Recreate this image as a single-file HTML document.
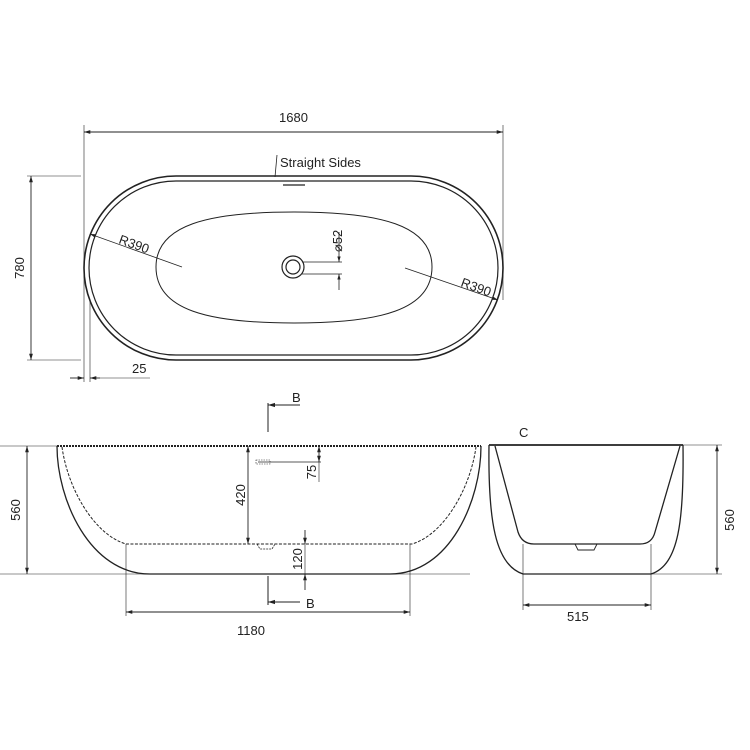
<!DOCTYPE html>
<html><head><meta charset="utf-8"><style>
html,body{margin:0;padding:0;background:#fff;}
svg{display:block;}
text{font-family:"Liberation Sans",sans-serif;font-size:13px;fill:#222;}
</style></head><body>
<svg width="750" height="750" viewBox="0 0 750 750" xmlns="http://www.w3.org/2000/svg">
<defs>
<marker id="a" viewBox="0 0 10 10" refX="10" refY="5" markerWidth="7" markerHeight="7" orient="auto-start-reverse"><path d="M0,2 L10,5 L0,8 z" fill="#222"/></marker>
</defs>
<g fill="none" stroke="#222">
<!-- TOP VIEW -->
<rect x="84" y="176" width="419" height="184" rx="92" ry="92" stroke-width="1.6"/>
<rect x="89" y="181" width="409" height="174" rx="87" ry="87" stroke-width="1.2"/>
<path d="M294,212 C380,212 432,225 432,267 C432,310 380,323 294,323 C208,323 156,310 156,267 C156,225 208,212 294,212 Z" stroke-width="1"/>
<circle cx="293" cy="267" r="11" stroke-width="1.2"/>
<circle cx="293" cy="267" r="7" stroke-width="1.2"/>
<line x1="283" y1="185" x2="305" y2="185" stroke-width="1.2"/>
<!-- 1680 -->
<line x1="84" y1="132" x2="503" y2="132" stroke-width="0.9" marker-start="url(#a)" marker-end="url(#a)"/>
<line x1="84" y1="125" x2="84" y2="382" stroke-width="0.6"/>
<line x1="503" y1="125" x2="503" y2="300" stroke-width="0.6"/>
<!-- 780 -->
<line x1="31" y1="176" x2="31" y2="360" stroke-width="0.9" marker-start="url(#a)" marker-end="url(#a)"/>
<line x1="27" y1="176" x2="81" y2="176" stroke-width="0.6"/>
<line x1="27" y1="360" x2="81" y2="360" stroke-width="0.6"/>
<!-- 25 -->
<line x1="90" y1="300" x2="90" y2="382" stroke-width="0.6"/>
<line x1="70" y1="378" x2="84" y2="378" stroke-width="0.9" marker-end="url(#a)"/>
<line x1="100" y1="378" x2="90" y2="378" stroke-width="0.9" marker-end="url(#a)"/>
<line x1="100" y1="378" x2="150" y2="378" stroke-width="0.6"/>
<!-- straight sides leader -->
<line x1="277" y1="155" x2="275" y2="177" stroke-width="0.8"/>
<!-- R390 -->
<line x1="182" y1="267" x2="90" y2="234" stroke-width="0.8" marker-end="url(#a)"/>
<line x1="405" y1="268" x2="498" y2="300" stroke-width="0.8" marker-end="url(#a)"/>
<!-- phi 52 -->
<line x1="302" y1="262" x2="342" y2="262" stroke-width="0.7"/>
<line x1="302" y1="274" x2="342" y2="274" stroke-width="0.7"/>
<line x1="339" y1="232" x2="339" y2="262" stroke-width="0.8" marker-end="url(#a)"/>
<line x1="339" y1="290" x2="339" y2="274" stroke-width="0.8" marker-end="url(#a)"/>

<!-- SIDE VIEW -->
<line x1="57" y1="446" x2="481" y2="446" stroke-width="2" stroke-dasharray="2 1"/>
<path d="M57,446 C57,500 90,574 150,574 L390,574 C450,574 481,500 481,446" stroke-width="1.3"/>
<path d="M62,447 C68,490 95,535 126,544 L412,544 C443,535 470,490 476,447" stroke-width="1" stroke-dasharray="3 1.5"/>
<line x1="0" y1="574" x2="150" y2="574" stroke-width="0.6"/>
<line x1="390" y1="574" x2="470" y2="574" stroke-width="0.6"/>
<line x1="0" y1="446" x2="57" y2="446" stroke-width="0.6"/>
<!-- 560 left -->
<line x1="27" y1="446" x2="27" y2="574" stroke-width="0.9" marker-start="url(#a)" marker-end="url(#a)"/>
<!-- 420 -->
<line x1="248" y1="446" x2="248" y2="544" stroke-width="0.9" marker-start="url(#a)" marker-end="url(#a)"/>
<!-- 75 -->
<line x1="319" y1="446" x2="319" y2="462" stroke-width="0.9" marker-start="url(#a)" marker-end="url(#a)"/>
<line x1="319" y1="462" x2="319" y2="482" stroke-width="0.6"/>
<line x1="258" y1="462" x2="321" y2="462" stroke-width="0.7"/>
<rect x="256" y="460" width="14" height="4" stroke-width="0.6" stroke-dasharray="1.5 1"/>
<!-- drain in side -->
<path d="M257,544 L260,549 L272,549 L275,544" stroke-width="0.8" stroke-dasharray="2 1"/>
<!-- 120 -->
<line x1="305" y1="530" x2="305" y2="544" stroke-width="0.9" marker-end="url(#a)"/>
<line x1="305" y1="590" x2="305" y2="574" stroke-width="0.9" marker-end="url(#a)"/>
<line x1="305" y1="544" x2="305" y2="574" stroke-width="0.6"/>
<!-- 1180 -->
<line x1="126" y1="544" x2="126" y2="616" stroke-width="0.6"/>
<line x1="410" y1="544" x2="410" y2="616" stroke-width="0.6"/>
<line x1="126" y1="612" x2="410" y2="612" stroke-width="0.9" marker-start="url(#a)" marker-end="url(#a)"/>
<!-- B markers -->
<line x1="268" y1="403" x2="268" y2="432" stroke-width="1"/>
<line x1="300" y1="405" x2="268" y2="405" stroke-width="1" marker-end="url(#a)"/>
<line x1="268" y1="576" x2="268" y2="605" stroke-width="1"/>
<line x1="300" y1="602" x2="268" y2="602" stroke-width="1" marker-end="url(#a)"/>

<!-- END VIEW -->
<line x1="489" y1="445" x2="683" y2="445" stroke-width="1.8"/>
<path d="M489,445 C488,520 495,565 523,574 L651,574 C679,565 684,520 683,445" stroke-width="1.3"/>
<path d="M495,446 L518,532 Q522,544 534,544 L640,544 Q652,544 655,532 L680,446" stroke-width="1.3"/>
<path d="M575,544 L578,550 L594,550 L597,544" stroke-width="0.9"/>
<line x1="523" y1="544" x2="523" y2="610" stroke-width="0.6"/>
<line x1="651" y1="544" x2="651" y2="610" stroke-width="0.6"/>
<line x1="523" y1="605" x2="651" y2="605" stroke-width="0.9" marker-start="url(#a)" marker-end="url(#a)"/>
<line x1="683" y1="445" x2="722" y2="445" stroke-width="0.6"/>
<line x1="651" y1="574" x2="722" y2="574" stroke-width="0.6"/>
<line x1="717" y1="445" x2="717" y2="574" stroke-width="0.9" marker-start="url(#a)" marker-end="url(#a)"/>
</g>

<text x="279" y="122">1680</text>
<text x="280" y="167">Straight Sides</text>
<text transform="translate(24,268) rotate(-90)" text-anchor="middle">780</text>
<text x="132" y="373">25</text>
<text transform="translate(118,243) rotate(20)">R390</text>
<text transform="translate(460,286) rotate(20)">R390</text>
<text transform="translate(342,252) rotate(-90)">⌀52</text>

<text transform="translate(20,510) rotate(-90)" text-anchor="middle">560</text>
<text transform="translate(245,495) rotate(-90)" text-anchor="middle">420</text>
<text transform="translate(316,472) rotate(-90)" text-anchor="middle">75</text>
<text transform="translate(302,559) rotate(-90)" text-anchor="middle">120</text>
<text x="292" y="402">B</text>
<text x="306" y="608">B</text>
<text x="237" y="635">1180</text>
<text x="519" y="437">C</text>
<text x="567" y="621">515</text>
<text transform="translate(734,520) rotate(-90)" text-anchor="middle">560</text>
</svg>
</body></html>
